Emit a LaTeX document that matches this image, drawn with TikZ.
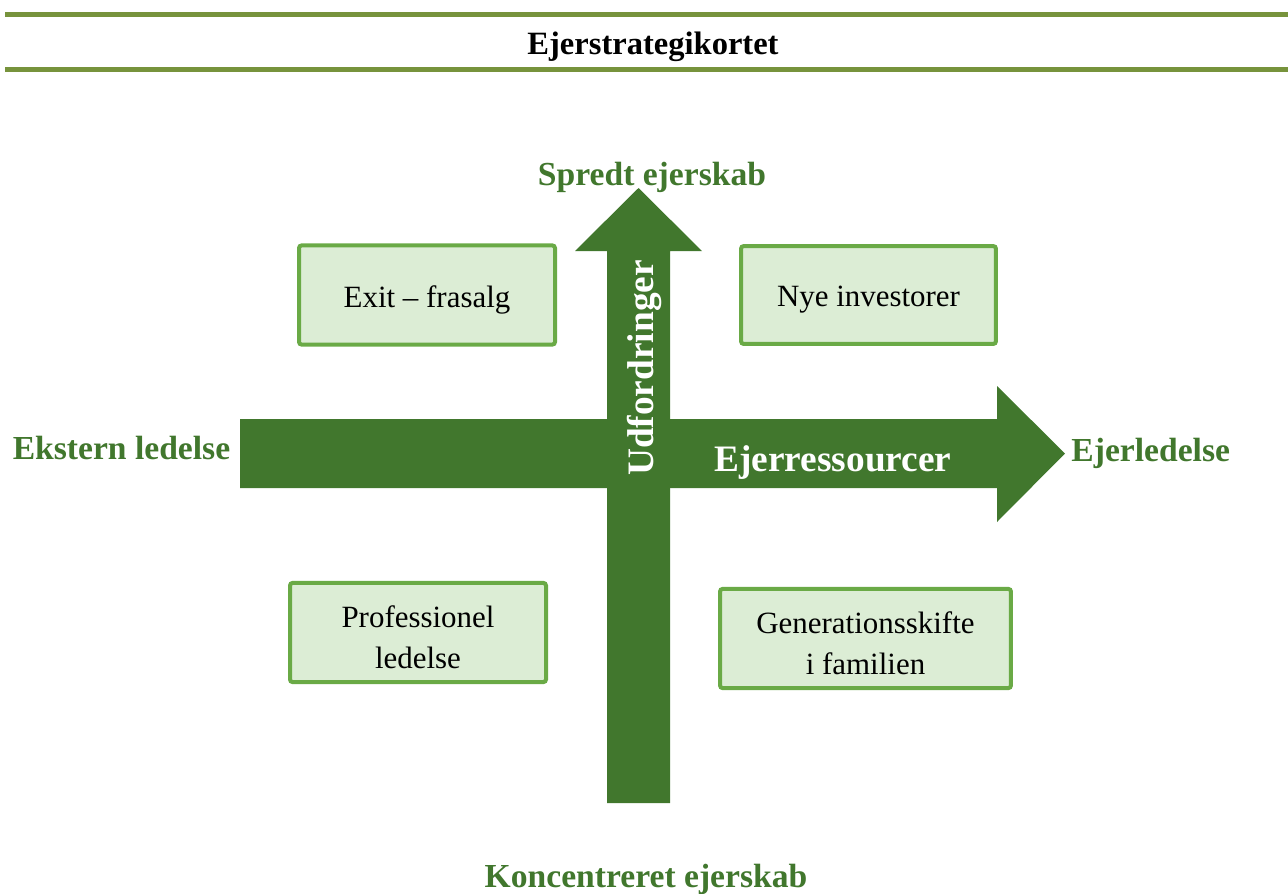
\documentclass[tikz,border=0pt]{standalone}
\usepackage{fontspec}
\setmainfont{Liberation Serif}
\usepackage{tikz}
\usetikzlibrary{positioning}
\definecolor{olivebar}{HTML}{77933C}
\definecolor{deepgreen}{HTML}{41772D}
\definecolor{boxgreen}{HTML}{6AAA46}
\definecolor{softgreen}{HTML}{DCEDD5}

\begin{document}
\begin{tikzpicture}[x=0.375pt,y=-0.375pt,
  rule/.style={fill=olivebar},
  bigarrow/.style={fill=deepgreen},
  box/.style={draw=boxgreen,fill=softgreen,line width=1.5pt,rounded corners=1pt,
              minimum height=37.2pt,inner sep=0pt},
  boxtext/.style={align=center,font=\fontsize{11.6}{15.4}\selectfont,yshift=-1.9pt,inner sep=0pt},
  axislabel/.style={text=deepgreen,font=\fontsize{12.6}{14}\selectfont\bfseries,inner sep=0pt,anchor=base},
  inlabel/.style={text=white,font=\fontsize{14}{16}\selectfont\bfseries,inner sep=0pt}
]
  \useasboundingbox (0,0) rectangle (1288,894);

  \fill[rule] (5,12) rectangle (1288,17);
  \fill[rule] (5,67) rectangle (1288,72);
  \node[font=\fontsize{12.2}{14}\selectfont\bfseries,anchor=base,inner sep=0pt] (title) at (653,54) {Ejerstrategikortet};

  \coordinate (east) at (1065,453.5);
  \coordinate (north) at (638.5,188);
  \fill[bigarrow] (240,419) -- (997,419) -- (997,386) -- (east) -- (997,522)
    -- (997,488) -- (240,488) -- cycle;
  \fill[bigarrow] (607,803) -- (607,251) -- (575,251) -- (north) -- (702,251)
    -- (670,251) -- (670,803) -- cycle;

  \node[inlabel,rotate=90] (udf) at (644,368) {Udfordringer};
  \node[inlabel,anchor=base] (ressourcer) at (833,471) {Ejerressourcer};

  \node[axislabel] (spredt) at (652,185) {Spredt ejerskab};
  \node[axislabel] (ekstern) at (121.5,459) {Ekstern ledelse};
  \node[axislabel,anchor=west,right=2.2pt of east] (ejerledelse) {Ejerledelse};
  \node[axislabel] (koncentreret) at (646,887) {Koncentreret ejerskab};

  \node[box,minimum width=96pt,label={[boxtext]center:Exit -- frasalg}] (exit) at (427,295) {};
  \node[box,minimum width=95.6pt,minimum height=36.7pt,label={[boxtext]center:Nye investorer}] (nye) at (868.5,295) {};
  \node[box,minimum width=96pt,label={[boxtext]center:{Professionel\\ledelse}}] (prof) at (418,632.5) {};
  \node[box,minimum width=109.1pt,label={[boxtext]center:{Generationsskifte\\i familien}}] (gen) at (865.5,638.5) {};
\end{tikzpicture}
\end{document}
